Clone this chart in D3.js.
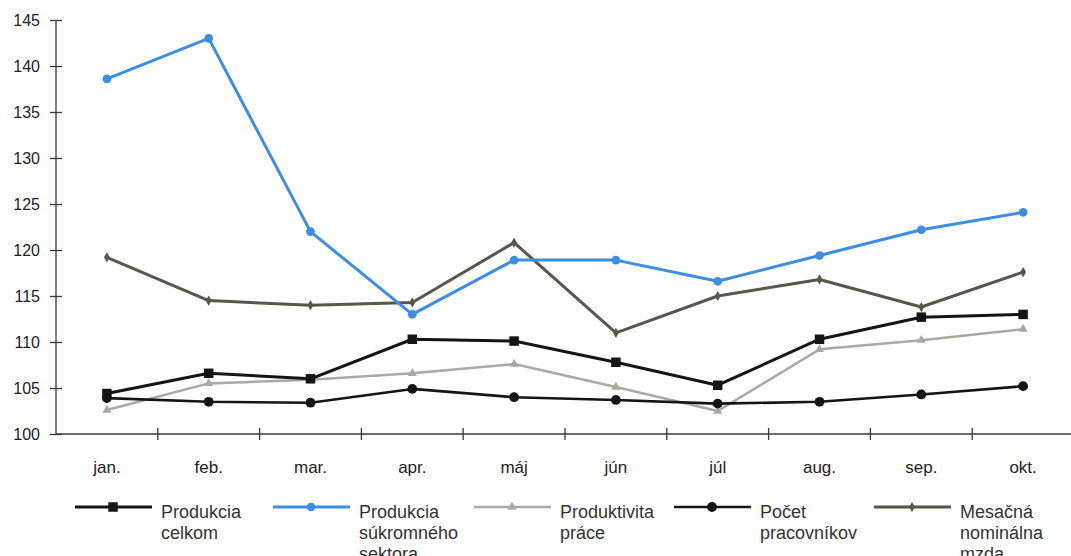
<!DOCTYPE html>
<html><head><meta charset="utf-8">
<script src="https://cdn.jsdelivr.net/npm/d3@7"></script>
<style>
html,body{margin:0;padding:0;background:#fff;}
svg{display:block;font-family:"Liberation Sans",Arial,sans-serif;}
</style></head>
<body>
<svg id="chart" width="1071" height="556"></svg>
<script>
const months = ["jan.","feb.","mar.","apr.","máj","jún","júl","aug.","sep.","okt."];
const yTicks = [100,105,110,115,120,125,130,135,140,145];

const produkciaCelkom = [104.4,106.6,106.0,110.3,110.1,107.8,105.3,110.3,112.7,113.0];
const produkciaSukromneho = [138.6,143.0,122.0,113.0,118.9,118.9,116.6,119.4,122.2,124.1];
const produktivitaPrace = [102.6,105.5,105.9,106.6,107.6,105.1,102.5,109.2,110.2,111.4];
const pocetPracovnikov = [103.9,103.5,103.4,104.9,104.0,103.7,103.3,103.5,104.3,105.2];
const mesacnaMzda = [119.2,114.5,114.0,114.3,120.8,111.0,115.0,116.8,113.8,117.6];

const seriesNames = [["Produkcia","celkom"],["Produkcia","súkromného","sektora"],["Produktivita","práce"],["Počet","pracovníkov"],["Mesačná","nominálna","mzda"]];
const seriesValues = [produkciaCelkom, produkciaSukromneho, produktivitaPrace, pocetPracovnikov, mesacnaMzda];
const seriesColors = ["#151515","#3b8ee0","#a9aaa3","#151515","#57574c"];
const seriesWidths = [3,3,2.5,2.6,3];
const seriesMarkers = ["square","circle","triangle","circle","diamond"];
const markerSizes = [90,60,36,75,30];

const svg = d3.select("#chart");
const mLeft = 56, mRight = 1074, mTop = 20, mBottom = 434;

const x = d3.scaleBand().domain(months).range([mLeft, mRight]);
const y = d3.scaleLinear().domain([100,145]).range([mBottom, mTop]);

const axisColor = "#3a3a3a";
const fontFam = "'Liberation Sans',Arial,sans-serif";

// y axis
const yAxis = svg.append("g").attr("transform",`translate(${mLeft},0)`)
  .call(d3.axisLeft(y).tickValues(yTicks).tickSize(0).tickPadding(0));
yAxis.select(".domain").remove();
yAxis.selectAll("text").attr("x", -16).attr("dy","0.35em")
  .style("font-size","16px").style("fill","#222").style("font-family",fontFam);
yAxis.selectAll(".tick").append("line").attr("x1",-6).attr("x2",6).attr("stroke",axisColor).attr("stroke-width",1.3);
svg.append("line").attr("x1",mLeft).attr("x2",mLeft).attr("y1",mTop).attr("y2",mBottom)
  .attr("stroke",axisColor).attr("stroke-width",1.3);

// x axis
svg.append("line").attr("x1",mLeft).attr("x2",1071).attr("y1",mBottom).attr("y2",mBottom)
  .attr("stroke",axisColor).attr("stroke-width",1.3);
const xAxis = svg.append("g").attr("transform",`translate(0,${mBottom})`)
  .call(d3.axisBottom(x).tickSize(0).tickPadding(0));
xAxis.select(".domain").remove();
xAxis.selectAll("text").attr("y", 33).attr("dy","0.35em")
  .style("font-size","17px").style("fill","#222").style("font-family",fontFam);
svg.append("g").selectAll("line").data(months.slice(1)).join("line")
  .attr("x1",d=>x(d)).attr("x2",d=>x(d)).attr("y1",mBottom-6).attr("y2",mBottom+6)
  .attr("stroke",axisColor).attr("stroke-width",1.3);

const symbolOf = m => ({square:d3.symbolSquare, circle:d3.symbolCircle, triangle:d3.symbolTriangle, diamond:d3.symbolDiamond})[m];

const line = d3.line().x((d,i)=>x(months[i])+x.bandwidth()/2).y(d=>y(d));

const order = [2,3,0,4,1];
order.forEach(k=>{
  const vals = seriesValues[k];
  const g = svg.append("g");
  g.append("path").datum(vals).attr("d",line).attr("fill","none")
    .attr("stroke",seriesColors[k]).attr("stroke-width",seriesWidths[k]).attr("stroke-linejoin","round");
  g.selectAll("path.m").data(vals).join("path").attr("class","m")
    .attr("transform",(d,i)=>`translate(${x(months[i])+x.bandwidth()/2},${y(d)})`)
    .attr("d",d3.symbol().type(symbolOf(seriesMarkers[k])).size(markerSizes[k]))
    .attr("fill",seriesColors[k]);
});

// legend
const legendX = [75, 273, 474, 674, 874];
const legendY = 507;
seriesNames.forEach((name,k)=>{
  const g = svg.append("g").attr("transform",`translate(${legendX[k]},${legendY})`);
  g.append("line").attr("x1",0).attr("x2",77).attr("y1",0).attr("y2",0)
    .attr("stroke",seriesColors[k]).attr("stroke-width",seriesWidths[k]);
  g.append("path").attr("transform","translate(38,0)")
    .attr("d",d3.symbol().type(symbolOf(seriesMarkers[k])).size(markerSizes[k]))
    .attr("fill",seriesColors[k]);
  const t = g.append("text").attr("x",86).attr("y",11)
    .style("font-size","18px").style("fill","#333").style("font-family",fontFam);
  name.forEach((w,j)=>{
    t.append("tspan").attr("x",86).attr("dy", j===0?0:21).text(w);
  });
});
</script>
</body></html>
